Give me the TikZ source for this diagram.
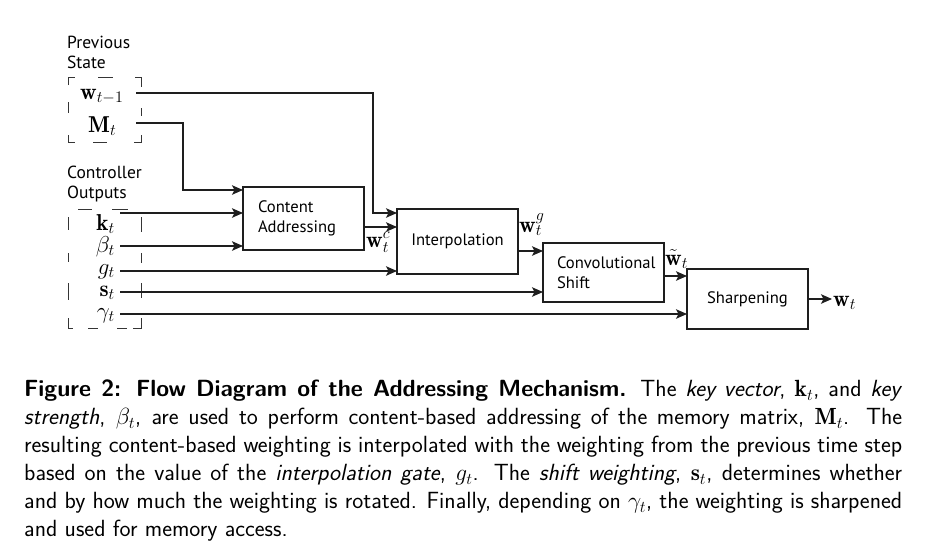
\RequirePackage{fix-cm}
\documentclass[tikz,border=0pt]{standalone}
\usepackage{fontspec}
\usetikzlibrary{arrows.meta}
\newfontfamily\diagfont{PT Sans}
\definecolor{ink}{HTML}{1E1E1E}
\begin{document}
\begin{tikzpicture}[x=1pt,y=-1pt,
  box/.style={draw=ink, line width=1.3pt, inner ysep=0pt, outer sep=0pt,
    font=\diagfont\fontsize{16.6}{20}\selectfont},
  hdr/.style={inner sep=0pt, font=\diagfont\fontsize{17.5}{20}\selectfont},
  lab/.style={inner sep=0pt, font=\fontsize{23}{26}\selectfont},
  arr/.style={draw=ink, line width=1.25pt, -{Stealth[length=11pt,width=9.5pt,inset=2.5pt]}},
  dbox/.style={draw=ink!90, line width=1pt}]
\useasboundingbox (0,0) rectangle (939,555);

% headers
\node[hdr, anchor=base west] (prev1) at (67,48) {Previous};
\node[hdr, anchor=base west] (prev2) at (67,68) {State};
\node[hdr, anchor=base west] (ctl1) at (67,178) {Controller};
\node[hdr, anchor=base west] (ctl2) at (67,198) {Outputs};

% dashed bracket: previous state
\draw[dbox] (68,85) -- (68,77) -- (75,77);
\draw[dbox] (135,77) -- (141,77) -- (141,87);
\draw[dbox] (68,135) -- (68,142) -- (75,142);
\draw[dbox] (134,142) -- (141,142) -- (141,135);
\draw[dbox] (98,77) -- (113,77);
\draw[dbox] (68,102) -- (68,113);
\draw[dbox] (93,142) -- (107,142);
\draw[dbox] (141,108) -- (141,116);

% dashed bracket: controller outputs
\draw[dbox] (78,209) -- (92,209);
\draw[dbox] (112,209) -- (128,209);
\foreach \a/\b in {217/230,253/262,283/300} \draw[dbox] (68,\a) -- (68,\b);
\foreach \a/\b in {217/232,253/263,283/298} \draw[dbox] (141,\a) -- (141,\b);
\draw[dbox] (68,318) -- (68,328) -- (73,328);
\draw[dbox] (88,328) -- (98,328);
\draw[dbox] (117,328) -- (127,328);
\draw[dbox] (133,328) -- (141,328) -- (141,318);

% labels
\node[lab, anchor=base west] (wtm1) at (80,99) {$\mathbf{w}_{t-1}$};
\node[lab, anchor=base west] (Mt) at (88,132) {$\mathbf{M}_t$};
\node[lab, anchor=base east] (kt) at (115,230) {$\mathbf{k}_t$};
\node[lab, anchor=base east] (bt) at (115,252) {$\beta_t$};
\node[lab, anchor=base east] (gt) at (115,274) {$g_t$};
\node[lab, anchor=base east] (st) at (115,296) {$\mathbf{s}_t$};
\node[lab, anchor=base east] (yt) at (115,318) {$\gamma_t$};

% boxes
\node[box, text width=91pt, inner xsep=15pt, minimum height=63pt, align=left] (ca) at (303.5,218.5) {Content\\Addressing};
\node[box, minimum width=121pt, minimum height=65pt] (interp) at (457.5,241.5) {Interpolation};
\node[box, text width=93pt, inner xsep=14pt, minimum height=59pt, align=left] (conv) at (603.5,272.5) {Convolutional\\Shift};
\node[box, minimum width=121pt, minimum height=60pt] (sharp) at (747.5,299) {Sharpening};

% coordinates
\coordinate (wst) at (136,93);
\coordinate (mst) at (136,123);
\coordinate (kst) at (120,213);
\coordinate (bst) at (120,246);
\coordinate (gst) at (120,271);
\coordinate (sst) at (120,292);
\coordinate (yst) at (120,314);
\coordinate (wbend) at (373,213);
\coordinate (mbend) at (183,190);
\coordinate (wcy) at (0,227);
\coordinate (wgy) at (0,251);
\coordinate (wty) at (0,276);
\coordinate (wout) at (832,299);

% connectors
\draw[arr] (wst) -| (wbend) -- (wbend -| interp.west);
\draw[arr] (mst) -| (mbend) -- (mbend -| ca.west);
\draw[arr] (kst) -- (kst -| ca.west);
\draw[arr] (bst) -- (bst -| ca.west);
\draw[arr] (ca.east |- wcy) -- (interp.west |- wcy);
\draw[arr] (gst) -- (gst -| interp.west);
\draw[arr] (interp.east |- wgy) -- (conv.west |- wgy);
\draw[arr] (sst) -- (sst -| conv.west);
\draw[arr] (conv.east |- wty) -- (sharp.west |- wty);
\draw[arr] (yst) -- (yst -| sharp.west);
\draw[arr] (sharp.east) -- (wout);

% connector labels
\node[lab, anchor=base west] (wc) at (366,247) {$\mathbf{w}_t^c$};
\node[lab, anchor=base west] (wg) at (519,232) {$\mathbf{w}_t^g$};
\node[lab, anchor=base west] (wtl) at (665,265) {$\tilde{\mathbf{w}}_t$};
\node[lab, anchor=base west] (wt) at (833,306) {$\mathbf{w}_t$};

% caption
\node[anchor=north west, inner sep=0pt, text width=878pt, align=justify,
  font=\sffamily\fontsize{23.4}{28}\selectfont] (cap) at (24,380)
{\textbf{Figure 2: Flow Diagram of the Addressing Mechanism.} The \textit{key vector}, $\mathbf{k}_t$, and \textit{key}\linebreak
\textit{strength}, $\beta_t$, are used to perform content-based addressing of the memory matrix, $\mathbf{M}_t$. The\linebreak
resulting content-based weighting is interpolated with the weighting from the previous time step\linebreak
based on the value of the \textit{interpolation gate}, $g_t$. The \textit{shift weighting}, $\mathbf{s}_t$, determines whether\linebreak
and by how much the weighting is rotated. Finally, depending on $\gamma_t$, the weighting is sharpened\linebreak
and used for memory access.};
\end{tikzpicture}
\end{document}
